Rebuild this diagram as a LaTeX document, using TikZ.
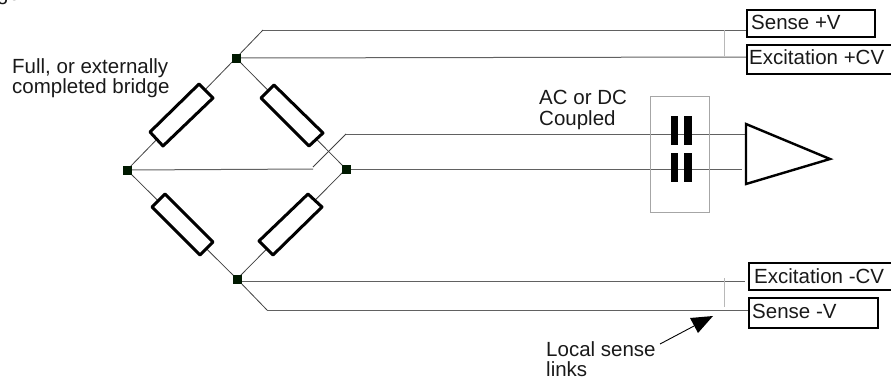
\documentclass[tikz,border=0pt]{standalone}
\usepackage{fontspec}
\setmainfont{Liberation Sans}
\tikzset{
  x=1pt,y=-1pt,
  wire/.style={draw=black!62,line width=1pt},
  thin wire/.style={draw=black!75,line width=0.8pt},
  link/.style={draw=black!28,line width=1pt},
  res/.style={draw=black,line width=3pt,line join=round,fill=white},
  joint/.style={fill=black!90!green,inner sep=0pt,minimum size=9pt,draw=none},
  lab/.style={inner sep=0pt,align=left,font=\fontsize{20.5}{20.5}\selectfont,text=black!90},
  termbox/.style={draw=black,line width=2.4pt,inner sep=0pt,fill=white},
  termtext/.style={inner sep=0pt,anchor=base west,font=\fontsize{20.5}{20.5}\selectfont,text=black!90},
  plate/.style={fill=black,draw=none}
}
\begin{document}
\begin{tikzpicture}
\useasboundingbox (0,0) rectangle (891,381);
\clip (0,0) rectangle (891,381);
% bridge joints
\node[joint] (T) at (236,58) {};
\node[joint] (L) at (127,170) {};
\node[joint] (R) at (346,169) {};
\node[joint] (B) at (237,279) {};
\coordinate (topend) at (263,30);
\coordinate (botend) at (267,310);
\coordinate (midtop) at (346,134);
\coordinate (midlow) at (313,167);
\coordinate (midlowr) at (313,169);
\coordinate (senseP) at (747,30);
\coordinate (excP) at (747,57);
\coordinate (excN) at (745,281);
\coordinate (senseN) at (749,310);
% wires
\draw[thin wire] (T.center) -- (topend);
\draw[wire] (topend) -- (senseP);
\draw[wire] (T.center) -- (excP);
\draw[thin wire] (B.center) -- (botend);
\draw[wire] (botend) -- (senseN);
\draw[wire] (B.center |- excN) -- (excN);
\draw[wire] (L.center) -- (midlowr);
\draw[thin wire] (midlow) -- (midtop);
\draw[wire] (midtop) -- (746,134);
\draw[wire] (R.center) -- (742,169);
\draw[thin wire] (T.center) -- (L.center);
\draw[thin wire] (T.center) -- (R.center);
\draw[thin wire] (L.center) -- (B.center);
\draw[thin wire] (R.center) -- (B.center);
% links
\draw[link] (724,30) -- (724,56);
\draw[link] (724,278) -- (724,307);
% resistors
\draw[res] (199,84) -- (213,98) -- (163,146) -- (150,132) -- cycle;
\draw[res] (274,85) -- (323,133) -- (309,146) -- (261,98) -- cycle;
\draw[res] (165,194) -- (213,242) -- (200,255) -- (152,207) -- cycle;
\draw[res] (308,194) -- (322,207) -- (273,255) -- (259,241) -- cycle;
% joints on top of wires
\node[joint] at (T) {};
\node[joint] at (L) {};
\node[joint] at (R) {};
\node[joint] at (B) {};
% coupling box
\draw[draw=black!35,line width=0.9pt] (650,96) rectangle (709,212);
\fill[plate] (671,116) rectangle (678,145);
\fill[plate] (684,116) rectangle (692,145);
\fill[plate] (671,153) rectangle (678,182);
\fill[plate] (684,153) rectangle (692,182);
% amplifier
\draw[draw=black,line width=2.4pt,line join=miter,fill=white] (746,124) -- (830,159) -- (746,184) -- cycle;
% terminal boxes
\draw[termbox] (747,10) rectangle (875,37);
\draw[termbox] (747,45) rectangle (900,74);
\draw[termbox] (749,263) rectangle (900,290);
\draw[termbox] (749,298) rectangle (878,328);
\node[termtext] (s1) at (751,29) {Sense +V};
\node[termtext] (s2) at (749,64) {Excitation +CV};
\node[termtext] (s3) at (754,283) {Excitation -CV};
\node[termtext] (s4) at (752,318) {Sense -V};
% labels
\node[lab,anchor=north west] (full) at (12,58) {Full, or externally\\completed bridge};
\node[lab,anchor=north west] (ac) at (539,90) {AC or DC\\Coupled};
\node[lab,anchor=north west] (local) at (546,341) {Local sense\\links};
\node[lab,anchor=base west] (frag) at (-3,0.5) {ge};
% pointer
\coordinate (ptip) at (713,316);
\draw[draw=black,line width=0.9pt] (660,344) -- (694,326);
\fill[black] (ptip) -- (690,318) -- (698,333) -- cycle;
\end{tikzpicture}
\end{document}
